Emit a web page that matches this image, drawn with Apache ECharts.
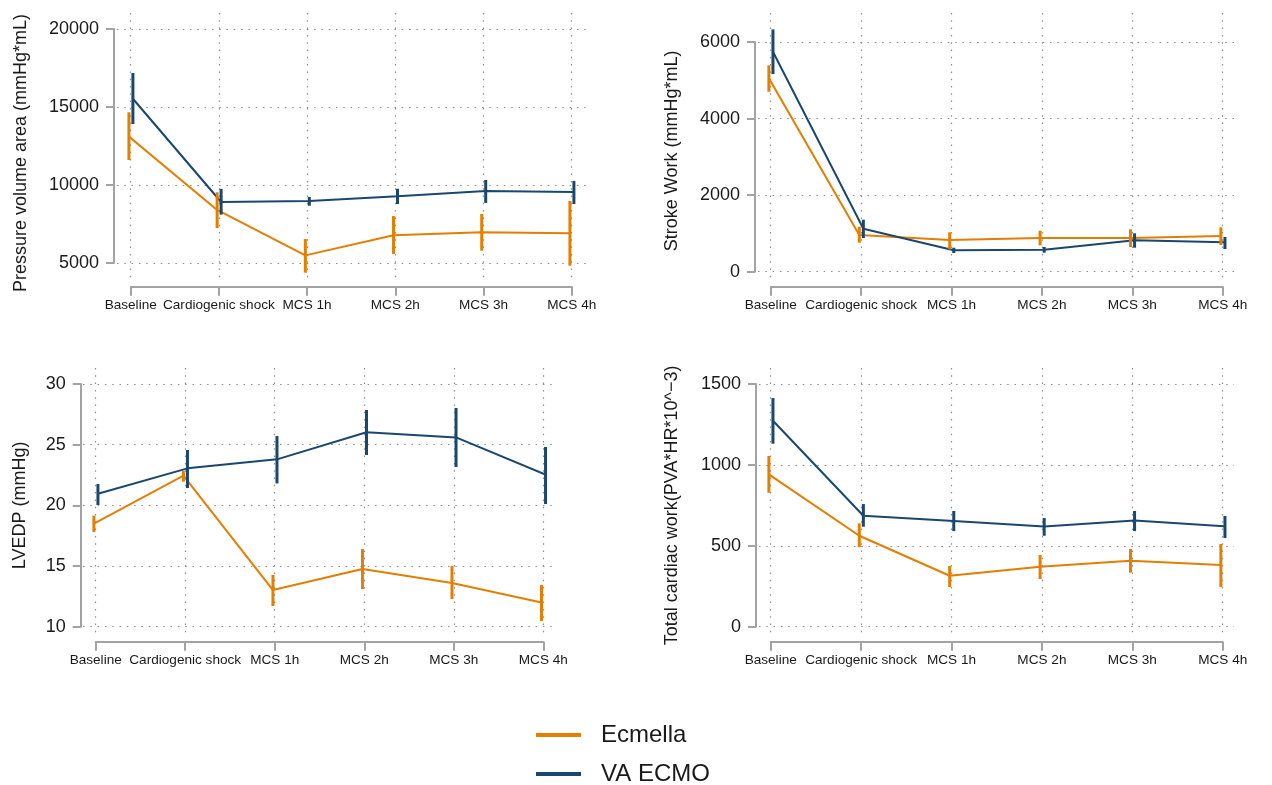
<!DOCTYPE html>
<html>
<head>
<meta charset="utf-8">
<script src="https://cdn.jsdelivr.net/npm/echarts@6/dist/echarts.min.js"></script>
<style>
html,body{margin:0;padding:0;background:#fff;}
#chart{width:1272px;height:785px;}
</style>
</head>
<body>
<div id="chart"></div>
<script>
// ---------- data ----------
const categories = ['Baseline', 'Cardiogenic shock', 'MCS 1h', 'MCS 2h', 'MCS 3h', 'MCS 4h'];
const seriesNames = ['Ecmella', 'VA ECMO'];

// Pressure volume area (mmHg*mL)
const pvaEcmella = [13100, 8400, 5490, 6780, 6970, 6900];
const pvaEcmellaCI = [[11600, 14660], [7240, 9530], [4380, 6540], [5580, 8010], [5790, 8140], [4830, 8975]];
const pvaEcmo = [15530, 8910, 8975, 9275, 9615, 9550];
const pvaEcmoCI = [[13910, 17180], [8100, 9750], [8670, 9230], [8780, 9760], [8850, 10320], [8780, 10260]];

// Stroke Work (mmHg*mL)
const swEcmella = [5050, 958, 828, 880, 880, 932];
const swEcmellaCI = [[4700, 5390], [757, 1175], [585, 1029], [689, 1071], [645, 1107], [697, 1159]];
const swEcmo = [5744, 1123, 559, 575, 820, 768];
const swEcmoCI = [[5162, 6329], [880, 1358], [488, 627], [496, 645], [627, 1002], [593, 906]];

// LVEDP (mmHg)
const lvedpEcmella = [18.49, 22.45, 13.02, 14.75, 13.6, 12.0];
const lvedpEcmellaCI = [[17.8, 19.15], [21.95, 22.83], [11.7, 14.26], [13.1, 16.4], [12.28, 15.0], [10.47, 13.43]];
const lvedpEcmo = [20.96, 23.05, 23.79, 26.02, 25.6, 22.53];
const lvedpEcmoCI = [[20.03, 21.76], [21.43, 24.56], [21.81, 25.71], [24.15, 27.86], [23.16, 28.02], [20.11, 24.81]];

// Total cardiac work (PVA*HR*10^-3)
const tcwEcmella = [941, 562, 315, 371, 408, 381];
const tcwEcmellaCI = [[828, 1055], [492, 639], [245, 375], [295, 443], [334, 480], [245, 511]];
const tcwEcmo = [1273, 686, 653, 620, 657, 620];
const tcwEcmoCI = [[1131, 1413], [618, 758], [591, 715], [562, 672], [591, 715], [548, 684]];

// y-axis tick settings
const pvaTicks = {min: 5000, max: 20000, interval: 5000};
const swTicks = {min: 0, max: 6000, interval: 2000};
const lvedpTicks = {min: 10, max: 30, interval: 5};
const tcwTicks = {min: 0, max: 1500, interval: 500};

// ---------- styling / layout ----------
const COLORS = ['#E37E00', '#1A476F'];
const OFFSETS = [-0.02, 0.025];
const FONT = "'Liberation Sans', Arial, Helvetica, sans-serif";
const AXIS_GRAY = '#a3a3a3';
const TEXT = '#1a1a1a';

const panels = [
  {title: 'Pressure volume area (mmHg*mL)', ticks: pvaTicks, data: [[pvaEcmella, pvaEcmellaCI], [pvaEcmo, pvaEcmoCI]],
   inner: {l: 130.7, r: 571.7, t: 29, b: 263}, outer: {l: 117, r: 588, t: 13, b: 281},
   yLine: 114, xLine: 286.7, nameGap: 84, namePad: [0, 14, 0, 0]},
  {title: 'Stroke Work (mmHg*mL)', ticks: swTicks, data: [[swEcmella, swEcmellaCI], [swEcmo, swEcmoCI]],
   inner: {l: 770.7, r: 1222.7, t: 42, b: 271.7}, outer: {l: 758, r: 1234, t: 13, b: 281},
   yLine: 755, xLine: 286.7, nameGap: 74, namePad: [0, 0, 0, 12]},
  {title: 'LVEDP (mmHg)', ticks: lvedpTicks, data: [[lvedpEcmella, lvedpEcmellaCI], [lvedpEcmo, lvedpEcmoCI]],
   inner: {l: 95.7, r: 543.3, t: 384, b: 626.7}, outer: {l: 83, r: 555, t: 368, b: 635},
   yLine: 80.7, xLine: 641.7, nameGap: 52, namePad: [0, 0, 0, 0]},
  {title: 'Total cardiac work(PVA*HR*10^\u22123)', ticks: tcwTicks, data: [[tcwEcmella, tcwEcmellaCI], [tcwEcmo, tcwEcmoCI]],
   inner: {l: 770.7, r: 1222.7, t: 384, b: 626.7}, outer: {l: 759, r: 1234, t: 368, b: 635},
   yLine: 756, xLine: 641.7, nameGap: 75, namePad: [0, 0, 0, 0]}
];

const grid = [], xAxis = [], yAxis = [], series = [];
const gridLine = {show: true, showMinLine: false, showMaxLine: false,
  lineStyle: {color: '#8e8e8e', width: 1.2, type: [1.5, 5.8]}};

panels.forEach((p, k) => {
  const I = p.inner, O = p.outer, T = p.ticks;
  const nCat = categories.length - 1;
  // inner grid: tick range, carries the data and the axes
  grid.push({left: I.l, top: I.t, width: I.r - I.l, height: I.b - I.t, containLabel: false, outerBoundsMode: 'none'});
  // outer grid: full plot region, carries only the dotted grid lines
  grid.push({left: O.l, top: O.t, width: O.r - O.l, height: O.b - O.t, containLabel: false, outerBoundsMode: 'none'});
  const gi = 2 * k, go = 2 * k + 1;
  const xu = nCat / (I.r - I.l);
  const yu = (T.max - T.min) / (I.b - I.t);

  xAxis.push({
    gridIndex: gi, type: 'value', min: 0, max: nCat, interval: 1,
    position: 'bottom', offset: p.xLine - I.b,
    axisLine: {show: true, onZero: false, lineStyle: {color: AXIS_GRAY, width: 2}},
    axisTick: {show: true, length: 9, lineStyle: {color: AXIS_GRAY, width: 2}},
    axisLabel: {show: true, margin: 12, fontSize: 13.6, color: TEXT, fontFamily: FONT,
      showMinLabel: true, showMaxLabel: true,
      formatter: v => categories[Math.round(v)] || ''},
    splitLine: {show: false}
  });
  xAxis.push({
    gridIndex: go, type: 'value',
    min: 0 - (I.l - O.l) * xu, max: nCat + (O.r - I.r) * xu,
    minInterval: 1, maxInterval: 1,
    axisLine: {show: false, onZero: false}, axisTick: {show: false}, axisLabel: {show: false},
    splitLine: gridLine
  });
  yAxis.push({
    gridIndex: gi, type: 'value', min: T.min, max: T.max, interval: T.interval,
    position: 'left', offset: I.l - p.yLine,
    name: p.title, nameLocation: 'middle', nameGap: p.nameGap,
    nameTextStyle: {fontSize: 18, color: TEXT, fontFamily: FONT, padding: p.namePad},
    axisLine: {show: true, onZero: false, lineStyle: {color: AXIS_GRAY, width: 2}},
    axisTick: {show: true, length: 8, lineStyle: {color: AXIS_GRAY, width: 2}},
    axisLabel: {show: true, margin: 15, fontSize: 18, color: TEXT, fontFamily: FONT,
      showMinLabel: true, showMaxLabel: true, formatter: v => String(v)},
    splitLine: {show: false}
  });
  yAxis.push({
    gridIndex: go, type: 'value',
    min: T.min - (O.b - I.b) * yu, max: T.max + (I.t - O.t) * yu,
    minInterval: T.interval, maxInterval: T.interval,
    axisLine: {show: false, onZero: false}, axisTick: {show: false}, axisLabel: {show: false},
    splitLine: gridLine
  });

  // empty series so the outer grid axes are in use
  series.push({type: 'line', xAxisIndex: go, yAxisIndex: go, data: [], silent: true, name: '_grid' + k});

  p.data.forEach(([means, cis], s) => {
    const color = COLORS[s];
    const off = OFFSETS[s];
    series.push({
      name: seriesNames[s], type: 'line', xAxisIndex: gi, yAxisIndex: gi,
      color: color, symbol: 'none', showSymbol: false, clip: false,
      lineStyle: {color: color, width: 2}, itemStyle: {color: color},
      data: means.map((v, i) => [i + off, v]), zlevel: 1, z: 3
    });
    series.push({
      name: seriesNames[s] + ' CI', type: 'custom', xAxisIndex: gi, yAxisIndex: gi,
      clip: false, zlevel: 1, z: 5,
      encode: {x: 0, y: [1, 2]},
      data: cis.map((c, i) => [i + off, c[0], c[1]]),
      renderItem: (params, api) => {
        const a = api.coord([api.value(0), api.value(1)]);
        const b = api.coord([api.value(0), api.value(2)]);
        return {type: 'line', shape: {x1: a[0], y1: a[1], x2: b[0], y2: b[1]},
          style: {stroke: color, lineWidth: 3, lineDash: null}};
      }
    });
  });
});

const option = {
  animation: false,
  backgroundColor: '#ffffff',
  textStyle: {fontFamily: FONT},
  grid, xAxis, yAxis, series,
  legend: {
    data: seriesNames, orient: 'vertical', left: 536, top: 723, height: 120, padding: 0,
    icon: 'rect', itemWidth: 45, itemHeight: 4, itemGap: 15,
    textStyle: {fontSize: 24, color: TEXT, fontFamily: FONT, padding: [0, 0, 0, 15]}
  }
};

const chart = echarts.init(document.getElementById('chart'), null, {renderer: 'canvas'});
chart.setOption(option);
</script>
</body>
</html>
